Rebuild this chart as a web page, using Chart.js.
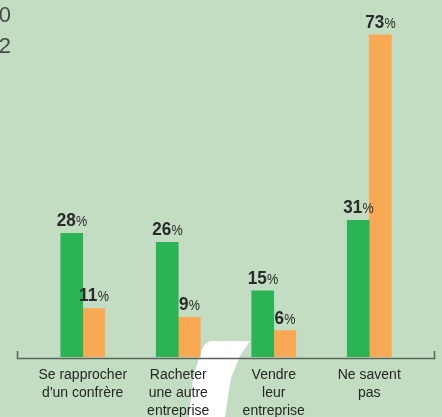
<!DOCTYPE html>
<html>
<head>
<meta charset="utf-8">
<script src="https://cdn.jsdelivr.net/npm/chart.js@4"></script>
<style>
  html, body { margin: 0; padding: 0; background: #c3ddc2; }
  #wrap { width: 442px; height: 417px; position: relative; }
</style>
</head>
<body>
<div id="wrap"><canvas id="chart"></canvas></div>
<script>
const categories = [
    ["Se rapprocher", "d'un confrère"],
    ["Racheter", "une autre", "entreprise"],
    ["Vendre", "leur", "entreprise"],
    ["Ne savent", "pas"]
];
const seriesNames = ["2000", "2002"];
const greenValues = [28, 26, 15, 31];
const orangeValues = [11, 9, 6, 73];

const GREEN = "#2bb456";
const ORANGE = "#f9a953";
const FONT = "'Liberation Sans', Arial, sans-serif";

// white decorative stroke behind the axis labels
const backdrop = {
    id: "backdrop",
    beforeDraw(chart) {
        const ctx = chart.ctx;
        ctx.save();
        ctx.fillStyle = "#c3ddc2";
        ctx.fillRect(0, 0, chart.width, chart.height);
        ctx.fillStyle = "#ffffff";
        ctx.beginPath();
        ctx.moveTo(212, 341);
        ctx.lineTo(250, 341);
        ctx.lineTo(240, 356);
        ctx.lineTo(231, 378);
        ctx.lineTo(225, 417);
        ctx.lineTo(189, 417);
        ctx.lineTo(193, 378);
        ctx.lineTo(200, 355);
        ctx.quadraticCurveTo(204, 341, 212, 341);
        ctx.fill();
        ctx.restore();
    }
};

// baseline with end ticks, value labels, cut legend text
const extras = {
    id: "extras",
    afterDatasetsDraw(chart) {
        const ctx = chart.ctx;
        const y0 = chart.scales.y.getPixelForValue(0) + 1.5;
        ctx.save();
        ctx.strokeStyle = "#5b665b";
        ctx.lineWidth = 1.5;
        ctx.beginPath();
        ctx.moveTo(17.5, 351);
        ctx.lineTo(17.5, y0);
        ctx.lineTo(434.5, y0);
        ctx.lineTo(434.5, 351);
        ctx.stroke();

        ctx.fillStyle = "#2a2a2a";
        ctx.textBaseline = "alphabetic";
        chart.data.datasets.forEach((ds, di) => {
            const meta = chart.getDatasetMeta(di);
            meta.data.forEach((bar, i) => {
                const num = String(ds.data[i]);
                const sx = 0.9;
                ctx.font = "bold 19px " + FONT;
                const wn = ctx.measureText(num).width * sx;
                ctx.font = "14px " + FONT;
                const wp = ctx.measureText("%").width * sx;
                const left = bar.x - (wn + wp) / 2;
                const by = bar.y - 7;
                ctx.save();
                ctx.translate(left, by);
                ctx.scale(sx, 1);
                ctx.textAlign = "left";
                ctx.font = "bold 19px " + FONT;
                ctx.fillText(num, 0, 0);
                ctx.font = "14px " + FONT;
                ctx.fillText("%", wn / sx + 0.5, 0);
                ctx.restore();
            });
        });

        // legend text, cut off by the left edge
        ctx.fillStyle = "#4a4a4a";
        ctx.font = "22px 'Liberation Sans', Arial, sans-serif";
        ctx.textAlign = "right";
        ctx.fillText(seriesNames[0], 11, 22);
        ctx.fillText(seriesNames[1], 11, 53);
        ctx.restore();
    }
};

new Chart(document.getElementById("chart"), {
    type: "bar",
    data: {
        labels: categories,
        datasets: [
            { label: seriesNames[0], data: greenValues, backgroundColor: GREEN },
            { label: seriesNames[1], data: orangeValues, backgroundColor: ORANGE }
        ]
    },
    options: {
        responsive: true,
        maintainAspectRatio: false,
        animation: false,
        layout: { padding: { left: 35, right: 25, top: 4, bottom: 0 } },
        datasets: { bar: { barThickness: 22, categoryPercentage: 0.525 } },
        plugins: { legend: { display: false }, tooltip: { enabled: false } },
        scales: {
            x: {
                grid: { display: false },
                border: { display: false },
                ticks: {
                    color: "#262626",
                    font: { family: FONT, size: 14, lineHeight: 1.3 },
                    padding: 1,
                    maxRotation: 0,
                    autoSkip: false
                },
                afterFit(scale) { scale.height = 60; }
            },
            y: {
                display: false,
                min: 0,
                max: 80
            }
        }
    },
    plugins: [backdrop, extras]
});
</script>
</body>
</html>
